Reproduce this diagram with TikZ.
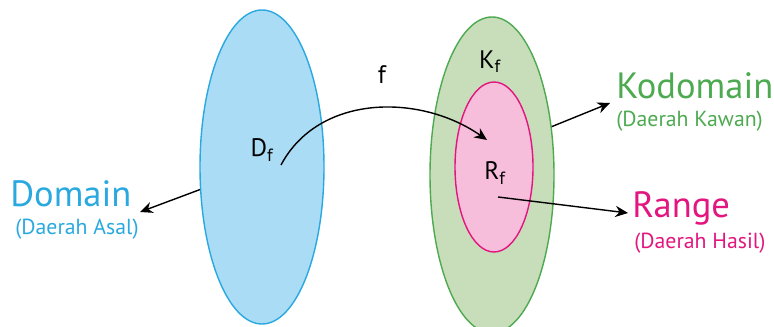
\documentclass[tikz,border=0pt]{standalone}
\usepackage{fontspec}
\setmainfont{PT Sans}
\usetikzlibrary{shapes.geometric,arrows.meta}
\definecolor{domblue}{RGB}{41,169,224}
\definecolor{domfill}{RGB}{170,220,245}
\definecolor{kodgreen}{RGB}{77,170,80}
\definecolor{kodfill}{RGB}{200,221,186}
\definecolor{rangepink}{RGB}{226,22,126}
\definecolor{rangefill}{RGB}{247,190,220}
\tikzset{
  setbox/.style={ellipse, draw, line width=1pt, inner sep=0pt},
  bigtext/.style={font=\fontsize{26}{28}\selectfont, anchor=base west, inner sep=0pt},
  smalltext/.style={font=\fontsize{15.5}{17}\selectfont, anchor=base west, inner sep=0pt},
  settext/.style={font=\fontsize{18}{20}\selectfont},
  pointer/.style={-{Stealth[length=9pt,width=8pt]}, line width=1pt}
}
\begin{document}
\begin{tikzpicture}
        \useasboundingbox (0,0) rectangle (19.35,8.175);
        \begin{scope}
        \clip (0,0) rectangle (19.35,8.175);

        % Sets
        \node[setbox, draw=domblue, fill=domfill, minimum width=3.1cm, minimum height=7.85cm] (dom) at (6.55,4.0) {};
        \node[setbox, draw=kodgreen, fill=kodfill, minimum width=3.1cm, minimum height=7.9cm] (kod) at (12.3,3.8) {};
        \node[setbox, draw=rangepink, fill=rangefill, minimum width=1.95cm, minimum height=4.25cm] (ran) at (12.35,4.0) {};
        \end{scope}

        % Set names
        \node[settext] (df) at (6.55,4.425) {D\textsubscript{f}};
        \node[settext] (kf) at (12.25,6.625) {K\textsubscript{f}};
        \node[settext] (rf) at (12.375,3.85) {R\textsubscript{f}};
        \node[settext] (f) at (9.55,6.3) {f};

        % Mapping f
        \coordinate (fstart) at (7.025,4.05);
        \coordinate (fend) at (12.175,4.675);
        \draw[pointer] (fstart) to[out=62, in=145] (fend);

        % Labels
        \node[bigtext, domblue] (domain) at (0.25,3.0) {Domain};
        \node[smalltext, domblue] (domsub) at (0.375,2.3) {(Daerah Asal)};
        \node[bigtext, kodgreen] (kodomain) at (15.4,5.72) {Kodomain};
        \node[smalltext, kodgreen] (kodsub) at (15.4,5.0) {(Daerah Kawan)};
        \node[bigtext, rangepink] (range) at (15.8,2.725) {Range};
        \node[smalltext, rangepink] (rangesub) at (15.85,1.95) {(Daerah Hasil)};

        % Pointers
        \coordinate (domtip) at (3.5,2.875);
        \coordinate (kodtip) at (15.25,5.6);
        \coordinate (rangestart) at (12.45,3.25);
        \coordinate (rangetip) at (15.7,2.85);
        \draw[pointer] (dom.200) -- (domtip);
        \draw[pointer] (kod.39) -- (kodtip);
        \draw[pointer] (rangestart) -- (rangetip);
    \end{tikzpicture}
\end{document}
